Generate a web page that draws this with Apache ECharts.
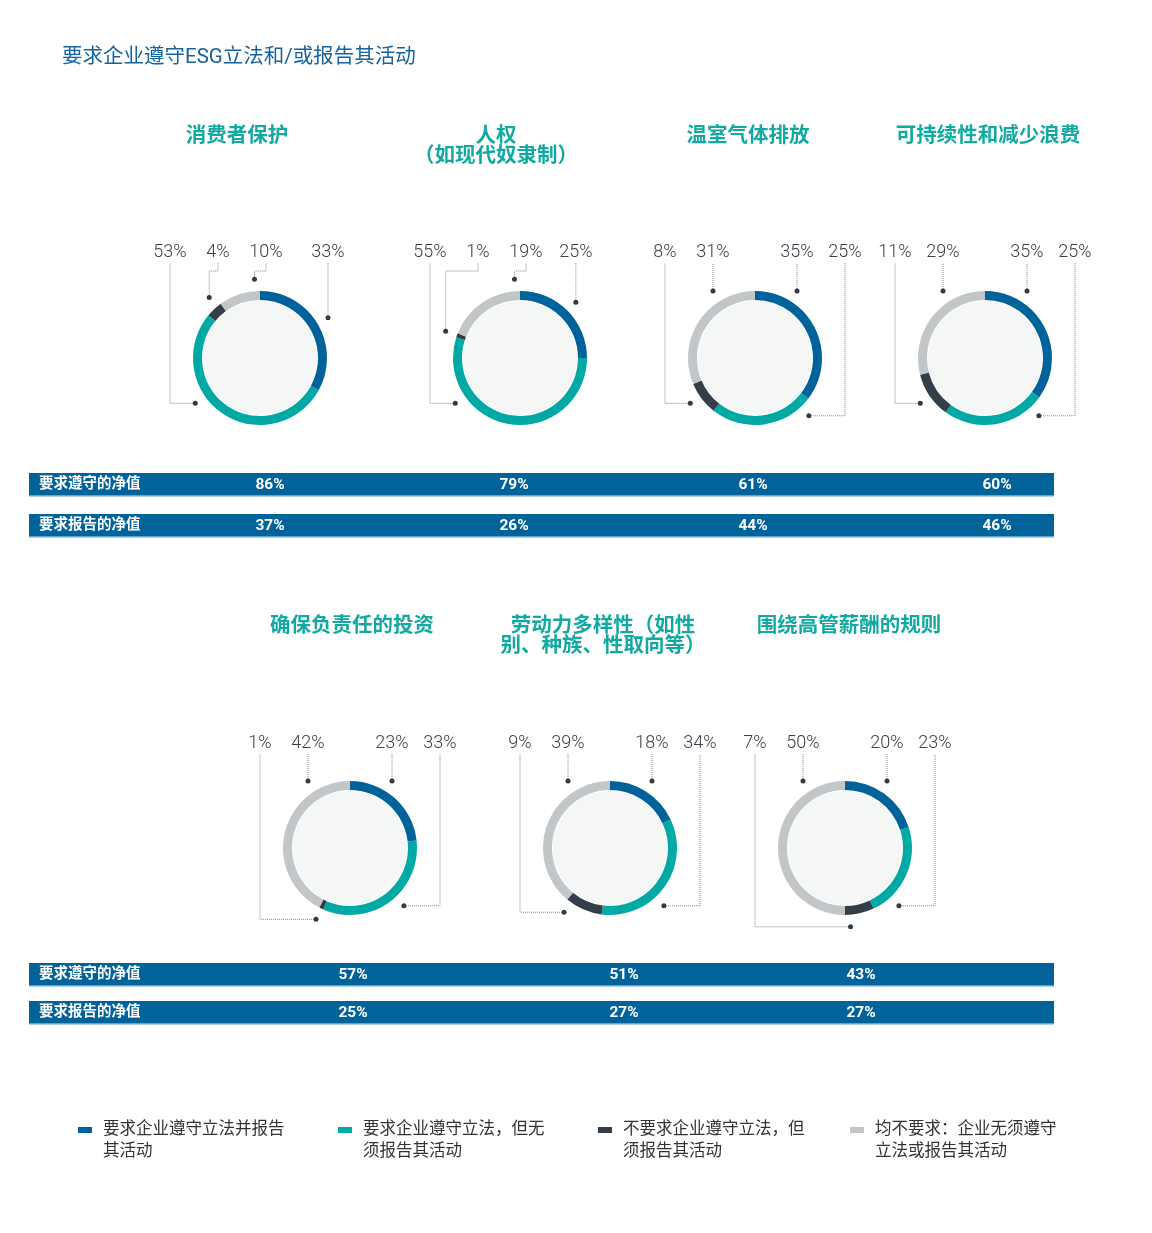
<!DOCTYPE html>
<html>
<head>
<meta charset="utf-8">
<script src="https://cdn.jsdelivr.net/npm/echarts@6/dist/echarts.min.js"></script>
<style>
html, body { margin: 0; padding: 0; background: #fff; }
#main { width: 1152px; height: 1233px; }
</style>
</head>
<body>
<div id="main"></div>
<script>
// data
var categories = [
    '要求企业遵守立法并报告\n其活动',
    '要求企业遵守立法，但无\n须报告其活动',
    '不要求企业遵守立法，但\n须报告其活动',
    '均不要求：企业无须遵守\n立法或报告其活动'
];
var topics = [
    '消费者保护',
    '人权\n（如现代奴隶制）',
    '温室气体排放',
    '可持续性和减少浪费',
    '确保负责任的投资',
    '劳动力多样性（如性\n别、种族、性取向等）',
    '围绕高管薪酬的规则'
];
var complyAndReport = [33, 25, 35, 35, 23, 18, 20];
var complyOnly      = [53, 55, 25, 25, 33, 34, 23];
var reportOnly      = [4, 1, 8, 11, 1, 9, 7];
var neither         = [10, 19, 31, 29, 42, 39, 50];
var netCompliance   = [86, 79, 61, 60, 57, 51, 43];
var netReporting    = [37, 26, 44, 46, 25, 27, 27];
var bandLabels = ['要求遵守的净值', '要求报告的净值'];

// layout
var colors = ['#00629b', '#00a9a4', '#333e48', '#c3c6c8'];
var centers = [[260, 358], [520, 358], [755, 358], [985, 358], [350, 848], [610, 848], [845, 848]];
var labelRowY = [252, 252, 252, 252, 743, 743, 743];
var topicX = [237, 496, 748, 988, 352, 603, 849];
var topicY = [124, 124, 124, 124, 614, 614, 614];
var valueX = [270, 514, 753, 997, 353, 624, 861];
var legendX = [78, 338, 598, 850];
var R = 67, RING = 9, DOT_R = R + 12, OUT = 90, GAP = 48;
var FONT = 'Roboto, "Noto Sans CJK SC", sans-serif';

function valsOf(k) {
    return [complyAndReport[k], complyOnly[k], reportOnly[k], neither[k]];
}

function clampAngle(target, lo, hi) {
    var best = null;
    [target, target + 360, target - 360].forEach(function (c) {
        var cl = Math.min(hi, Math.max(lo, c)), d = Math.abs(cl - c);
        if (!best || d < best.d) best = { a: cl, d: d };
    });
    return best;
}

// where each label, dot and leader line goes
function place(k) {
    var cx = centers[k][0], cy = centers[k][1];
    var vals = valsOf(k);
    var total = vals.reduce(function (a, b) { return a + b; }, 0);
    var rad = Math.PI / 180;
    var acc = 0;
    var pt = function (a) { return [cx + DOT_R * Math.sin(a * rad), cy - DOT_R * Math.cos(a * rad)]; };
    var items = vals.map(function (v, i) {
        var a0 = acc / total * 360; acc += v;
        var a1 = acc / total * 360, mid = (a0 + a1) / 2;
        var m = Math.min(4, (a1 - a0) / 2);
        return { i: i, a0: a0, a1: a1, lo: a0 + m, hi: a1 - m, mid: mid,
                 s: Math.sin(mid * rad), c: Math.cos(mid * rad) };
    });
    var used = { '1': 0, '-1': 0 };
    items.filter(function (it) { return it.c < -0.05; })
        .sort(function (a, b) { return Math.abs(b.s) - Math.abs(a.s); })
        .forEach(function (it) {
            var side = it.s >= 0 ? 1 : -1;
            if (Math.abs(it.s) < 0.35 && used[side] > used[-side]) side = -side;
            it.lx = side * (OUT + GAP * used[side]);
            used[side]++;
            it.fixed = true;
            it.dot = pt(clampAngle(side > 0 ? 137 : 235, it.lo, it.hi).a);
        });
    items.forEach(function (it) { if (!it.fixed) it.lx = DOT_R * it.s; });
    var sorted = items.slice().sort(function (a, b) { return a.lx - b.lx; });
    for (var i = 1; i < sorted.length; i++) {
        if (!sorted[i].fixed) sorted[i].lx = Math.max(sorted[i].lx, sorted[i - 1].lx + GAP);
    }
    for (var j = sorted.length - 2; j >= 0; j--) {
        if (!sorted[j].fixed) sorted[j].lx = Math.min(sorted[j].lx, sorted[j + 1].lx - GAP);
    }
    var ly = labelRowY[k], lb = ly + 11, knee = cy - R - 20;
    items.forEach(function (it) {
        var x = cx + it.lx;
        if (it.fixed) {
            it.line = [it.dot, [x, it.dot[1]], [x, lb]];
        } else {
            var phi = Math.abs(it.lx) < DOT_R ? Math.asin(it.lx / DOT_R) / rad : it.mid;
            var best = clampAngle(phi, it.lo, it.hi);
            it.dot = pt(best.a);
            if (best.d < 0.01) it.line = [it.dot, [x, lb]];
            else it.line = [it.dot, [it.dot[0], knee], [x, knee], [x, lb]];
        }
        it.x = x; it.y = ly;
    });
    return items;
}

var series = [];
topics.forEach(function (t, k) {
    var lay = place(k);
    var vals = valsOf(k);
    var data = categories.map(function (name, i) {
        return { name: name, value: vals[i], itemStyle: { color: colors[i] } };
    });
    series.push({
        type: 'pie', center: centers[k], radius: [0, R - RING - 1], silent: true,
        itemStyle: { borderWidth: 0 },
        label: { show: false }, labelLine: { show: false },
        data: [{ value: 1, itemStyle: { color: '#f5f7f7' } }]
    });
    series.push({
        type: 'pie', center: centers[k], radius: [R - RING, R], silent: true,
        startAngle: 90, clockwise: true, avoidLabelOverlap: false,
        itemStyle: { borderWidth: 0 },
        label: {
            show: true, position: 'outside', formatter: '{c}%',
            fontFamily: FONT, fontSize: 18, fontWeight: 300, color: '#3b4148'
        },
        labelLine: { show: true, lineStyle: { type: 'dotted', color: '#80878d', width: 1 } },
        labelLayout: function (p) {
            var it = lay[p.dataIndex];
            return { x: it.x, y: it.y, align: 'center', verticalAlign: 'middle', labelLinePoints: it.line };
        },
        data: data
    });
    // dots at the ends of the leader lines
    series.push({
        type: 'pie', center: centers[k], radius: [R - RING, R], silent: true,
        startAngle: 90, clockwise: true, avoidLabelOverlap: false,
        itemStyle: { color: 'rgba(0,0,0,0)', borderWidth: 0 },
        label: {
            show: true, position: 'outside', formatter: '{d|}',
            rich: { d: { width: 5, height: 5, borderRadius: 3, backgroundColor: '#333a40' } }
        },
        labelLine: { show: false },
        labelLayout: function (p) {
            var it = lay[p.dataIndex];
            return { x: it.dot[0], y: it.dot[1], align: 'center', verticalAlign: 'middle' };
        },
        data: vals.map(function (v) { return { value: v }; })
    });
});

var titles = [{
    text: '要求企业遵守ESG立法和/或报告其活动', left: 62, top: 48, padding: 0,
    textStyle: { fontFamily: FONT, fontSize: 20.5, fontWeight: 'normal', color: '#17639e' }
}];
topics.forEach(function (t, k) {
    titles.push({
        text: t, left: topicX[k], top: topicY[k] + 3, textAlign: 'center', padding: 0,
        textStyle: { fontFamily: FONT, fontSize: 20.5, fontWeight: 'bold', color: '#11a9a1', lineHeight: 20 }
    });
});

var legends = categories.map(function (name, i) {
    return {
        data: [name], left: legendX[i], top: 1097, padding: 0, selectedMode: false,
        icon: 'rect', itemWidth: 14, itemHeight: 6,
        formatter: function (n) { return '\n' + n; },
        textStyle: { fontFamily: FONT, fontSize: 16.5, color: '#333', lineHeight: 22, padding: [0, 0, 0, 6] }
    };
});

var graphics = [];
var bandRows = [{ charts: [0, 1, 2, 3], y: [473, 514] }, { charts: [4, 5, 6], y: [963, 1001] }];
bandRows.forEach(function (row) {
    [netCompliance, netReporting].forEach(function (arr, j) {
        var y = row.y[j];
        graphics.push({ type: 'rect', silent: true, shape: { x: 29, y: y, width: 1025, height: 23 }, style: { fill: '#02629a' } });
        graphics.push({ type: 'rect', silent: true, shape: { x: 29, y: y + 22, width: 1025, height: 1.5 }, style: { fill: '#5da5d4' } });
        graphics.push({
            type: 'text', silent: true, x: 39, y: y + 11.5,
            style: { text: bandLabels[j], fill: '#fff', font: 'bold 14.5px ' + FONT, align: 'left', verticalAlign: 'middle' }
        });
        row.charts.forEach(function (k) {
            graphics.push({
                type: 'text', silent: true, x: valueX[k], y: y + 12,
                style: { text: arr[k] + '%', fill: '#fff', font: 'bold 15.5px ' + FONT, align: 'center', verticalAlign: 'middle' }
            });
        });
    });
});

var myChart = echarts.init(document.getElementById('main'));
myChart.setOption({
    animation: false,
    title: titles,
    legend: legends,
    graphic: graphics,
    series: series
});
</script>
</body>
</html>
